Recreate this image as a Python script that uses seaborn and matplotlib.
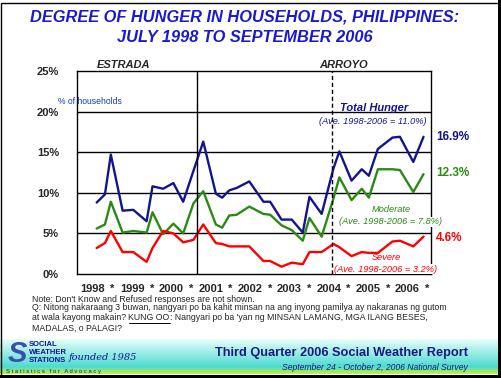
import numpy as np
import pandas as pd
import matplotlib
matplotlib.use("Agg")
import matplotlib.pyplot as plt
import seaborn as sns
from matplotlib.patches import Rectangle

# survey dates (decimal years) and % of households
survey = [1998.50, 1998.71, 1998.86, 1999.16, 1999.43, 1999.77, 1999.92, 2000.19,
          2000.45, 2000.70, 2000.96, 2001.21, 2001.53, 2001.69, 2001.87, 2002.06,
          2002.38, 2002.74, 2002.91, 2003.20, 2003.46, 2003.74, 2003.91, 2004.22,
          2004.52, 2004.67, 2004.98, 2005.24, 2005.42, 2005.65, 2006.02, 2006.21,
          2006.55, 2006.81]
total = [8.8, 9.8, 14.7, 7.8, 7.9, 6.5, 10.8, 10.5, 11.2, 8.9, 12.7, 16.3, 9.9, 9.4,
         10.3, 10.6, 11.4, 8.9, 8.9, 6.7, 6.7, 5.1, 9.5, 7.4, 13.0, 15.1, 11.5, 12.9,
         12.1, 15.4, 16.8, 16.9, 13.8, 16.9]
moderate = [5.6, 6.1, 8.9, 5.1, 5.3, 5.1, 7.6, 4.9, 6.2, 5.0, 8.7, 10.2, 6.1, 5.7,
            7.2, 7.3, 8.3, 7.4, 7.3, 6.0, 5.4, 4.1, 6.9, 4.6, 9.3, 11.9, 9.1, 10.5,
            9.4, 12.9, 12.9, 12.8, 10.1, 12.3]
severe = [3.2, 3.8, 5.3, 2.7, 2.7, 1.5, 3.2, 5.3, 5.0, 3.9, 4.2, 6.1, 3.8, 3.7,
          3.4, 3.4, 3.4, 1.6, 1.6, 0.9, 1.4, 1.2, 2.7, 2.7, 3.7, 3.3, 2.2, 2.7,
          2.6, 2.6, 4.0, 4.1, 3.4, 4.6]
years = list(range(1998, 2007))

NAVY = "#14148c"
GREEN = "#2a8a14"
RED = "#ff0000"

df = pd.concat([
    pd.DataFrame({"year": survey, "pct": total, "series": "Total"}),
    pd.DataFrame({"year": survey, "pct": moderate, "series": "Moderate"}),
    pd.DataFrame({"year": survey, "pct": severe, "series": "Severe"}),
])

sns.set_style("white")
plt.rcParams["font.family"] = ["Liberation Sans", "DejaVu Sans"]

W, H = 501, 378
fig = plt.figure(figsize=(W / 100, H / 100), dpi=100)


def px(x, y):
    return x / W, 1 - y / H


ax = fig.add_axes([77 / W, 1 - 274 / H, (431 - 77) / W, (274 - 71) / H])
sns.lineplot(data=df, x="year", y="pct", hue="series",
             palette={"Total": NAVY, "Moderate": GREEN, "Severe": RED},
             linewidth=1.7, legend=False, ax=ax)
ax.set_xlim(1998.0, 2007.0)
ax.set_ylim(0, 25)
ax.set_yticks(range(0, 26, 5))
ax.set_yticklabels([f"{v}%" for v in range(0, 26, 5)], fontsize=8, fontweight="bold")
xt = []
xl = []
for y in years:
    xt += [y + 0.4, y + 0.9]
    xl += [str(y), "*"]
ax.set_xticks(xt)
ax.set_xticklabels(xl, fontsize=8, fontweight="bold")
ax.tick_params(axis="both", length=0)
ax.tick_params(axis="y", pad=13)
ax.tick_params(axis="x", pad=7)
ax.set_xlabel("")
ax.set_ylabel("")
for v in [5, 10, 15, 20]:
    ax.axhline(v, color="black", lw=1, zorder=0)
ax.axvline(2001.05, color="black", lw=1)
ax.axvline(2004.48, color="black", lw=1, ls=(0, (3, 2)))
for s in ax.spines.values():
    s.set_color("black")
    s.set_linewidth(1)

# titles
fig.text(*px(245, 17), "DEGREE OF HUNGER IN HOUSEHOLDS, PHILIPPINES:", ha="center",
         va="center", fontsize=11.8, fontweight="bold", style="italic", color="#1a1acc")
fig.text(*px(245, 38), "JULY 1998 TO SEPTEMBER 2006", ha="center",
         va="center", fontsize=11.8, fontweight="bold", style="italic", color="#1a1acc")
fig.text(*px(97, 65), "ESTRADA", ha="left", va="center", fontsize=8,
         fontweight="bold", style="italic")
fig.text(*px(319, 65), "ARROYO", ha="left", va="center", fontsize=8,
         fontweight="bold", style="italic")
fig.text(*px(58, 101), "% of households", ha="left", va="center", fontsize=6.2,
         color="#1a3a9a")

# series annotations
fig.text(*px(374, 108), "Total Hunger", ha="center", va="center", fontsize=8,
         fontweight="bold", style="italic", color=NAVY)
fig.text(*px(373, 121), "(Ave. 1998-2006 = 11.0%)", ha="center", va="center",
         fontsize=6.7, style="italic", color=NAVY)
fig.text(*px(436, 137), "16.9%", ha="left", va="center", fontsize=8.5,
         fontweight="bold", color=NAVY)
fig.text(*px(436, 173), "12.3%", ha="left", va="center", fontsize=8.5,
         fontweight="bold", color=GREEN)
fig.text(*px(436, 238), "4.6%", ha="left", va="center", fontsize=8.5,
         fontweight="bold", color=RED)
fig.text(*px(391, 210), "Moderate", ha="center", va="center", fontsize=6.7,
         style="italic", color=GREEN)
fig.text(*px(391, 222), "(Ave. 1998-2006 = 7.8%)", ha="center", va="center",
         fontsize=6.7, style="italic", color=GREEN,
         bbox=dict(fc="white", ec="none", pad=0.3))
fig.text(*px(386, 258), "Severe", ha="center", va="center", fontsize=6.7,
         style="italic", color=RED)
fig.text(*px(386, 269), "(Ave. 1998-2006 = 3.2%)", ha="center", va="center",
         fontsize=6.7, style="italic", color=RED,
         bbox=dict(fc="white", ec="none", pad=0.3))

# notes
nfs = 6.3
fig.text(*px(32, 299), "Note: Don't Know and Refused responses are not shown.",
         ha="left", va="center", fontsize=nfs)
fig.text(*px(32, 308), "Q: Nitong nakaraang 3 buwan, nangyari po ba kahit minsan na ang inyong "
         "pamilya ay nakaranas ng gutom", ha="left", va="center", fontsize=nfs)
fig.canvas.draw()
rend = fig.canvas.get_renderer()
xcur = 32
for part, ul in [("at wala kayong makain? ", False), ("KUNG OO", True),
                 (": Nangyari po ba 'yan ng MINSAN LAMANG, MGA ILANG BESES,", False)]:
    t = fig.text(*px(xcur, 318), part, ha="left", va="center", fontsize=nfs)
    bb = t.get_window_extent(rend)
    if ul:
        fig.add_artist(plt.Line2D([xcur / W, (xcur + bb.width) / W],
                                  [1 - 322.5 / H] * 2, color="black", lw=0.7,
                                  transform=fig.transFigure))
    xcur += bb.width
fig.text(*px(32, 328), "MADALAS, o PALAGI?", ha="left", va="center", fontsize=nfs)

# footer gradient
fax = fig.add_axes([0, 1 - 374 / H, 1, (374 - 339) / H])
n = 35
top = np.array([0.90, 0.99, 0.98])
mid = np.array([0.30, 0.86, 0.82])
bot = np.array([0.75, 0.94, 0.25])
rows = []
for i in range(n):
    f = i / (n - 1)
    if f < 0.8:
        c = top + (mid - top) * (f / 0.8)
    else:
        c = mid + (bot - mid) * ((f - 0.8) / 0.2)
    rows.append(c)
grad = np.array(rows)[:, None, :].repeat(10, axis=1)
fax.imshow(grad, aspect="auto", extent=[0, 1, 0, 1])
fax.set_axis_off()

fig.text(*px(17, 354), "S", ha="center", va="center", fontsize=21, fontweight="bold",
         style="italic", color="#3a50a8")
for i, w in enumerate(["SOCIAL", "WEATHER", "STATIONS"]):
    fig.text(*px(29, 345 + 7.5 * i), w, ha="left", va="center", fontsize=5.5,
             fontweight="bold", color=NAVY)
fig.text(*px(69, 357), "founded 1985", ha="left", va="center", fontsize=7,
         style="italic", color=NAVY, family=["DejaVu Serif"])
fig.text(*px(6, 371), "S t a t i s t i c s   f o r   A d v o c a c y", ha="left",
         va="center", fontsize=4.2, color=NAVY)
fig.text(*px(468, 353), "Third Quarter 2006 Social Weather Report", ha="right",
         va="center", fontsize=9.2, fontweight="bold", color="#1a1a80")
fig.text(*px(468, 367), "September 24 - October 2, 2006 National Survey", ha="right",
         va="center", fontsize=6.2, style="italic", color="#1a1a80")

# frame
fig.add_artist(Rectangle((0.5 / W, 0.5 / H), (W - 3) / W, (H - 3) / H, fill=False,
                         ec="black", lw=1, transform=fig.transFigure))
fig.add_artist(Rectangle(((W - 3) / W, 0), 3 / W, 1, fc="black", ec="none",
                         transform=fig.transFigure))
fig.add_artist(Rectangle((0, 0), 1, 3 / H, fc="black", ec="none",
                         transform=fig.transFigure))

fig.savefig("out.png", dpi=100)
